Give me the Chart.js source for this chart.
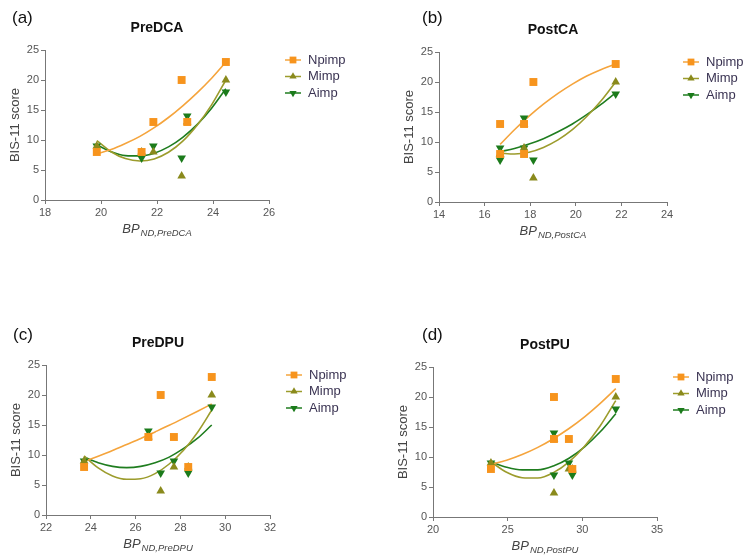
<!DOCTYPE html>
<html>
<head>
<meta charset="utf-8">
<title>BIS-11 vs BP</title>
<script src="https://cdn.jsdelivr.net/npm/chart.js@4.4.0/dist/chart.umd.min.js"></script>
<style>
  body { margin: 0; background: #fff; }
  #wrap { position: relative; width: 748px; height: 560px; }
  canvas { position: absolute; }
</style>
</head>
<body>
<div id="wrap">
  <canvas id="panelA" width="374" height="280" style="left:0;top:0"></canvas>
  <canvas id="panelB" width="374" height="280" style="left:374px;top:0"></canvas>
  <canvas id="panelC" width="374" height="280" style="left:0;top:280px"></canvas>
  <canvas id="panelD" width="374" height="280" style="left:374px;top:280px"></canvas>
</div>
<script>
// --------------------- Data ---------------------
// BIS-11 subscale scores, one value per subject
const seriesNames = ["Npimp", "Mimp", "Aimp"];
const npimp = [8, 8, 13, 20, 13, 23];
const mimp = [9, 8, 8, 4, 13, 20];
const aimp = [9, 7, 9, 7, 14, 18];

// BP_ND for the same subjects in each region
const bpPreDCA = [19.85, 21.45, 21.87, 22.88, 23.08, 24.46];
const bpPostCA = [17.73, 16.68, 16.68, 18.14, 17.73, 21.75];
const bpPreDPU = [23.7, 28.35, 27.71, 27.12, 26.57, 29.4];
const bpPostPU = [23.88, 29.33, 29.1, 28.1, 28.1, 32.24];

// fitted curves
const fitXPreDCA = [19.85, 20.36, 20.87, 21.39, 21.9, 22.41, 22.92, 23.44, 23.95, 24.46];
const fitNPreDCA = [7.7, 8.4, 9.4, 10.6, 12.05, 13.75, 15.7, 17.9, 20.3, 23.0];
const fitMPreDCA = [9.9, 8.05, 6.9, 6.5, 6.85, 7.95, 9.8, 12.5, 15.85, 20.0];
const fitAPreDCA = [9.2, 8.05, 7.4, 7.35, 7.8, 8.85, 10.45, 12.6, 15.3, 18.55];

const fitXPostCA = [16.68, 17.31, 17.95, 18.58, 19.22, 19.85, 20.48, 21.12, 21.75];
const fitNPostCA = [9.6, 12.05, 14.3, 16.3, 18.1, 19.65, 21.0, 22.1, 23.0];
const fitMPostCA = [8.15, 8.0, 8.3, 9.1, 10.35, 12.05, 14.25, 16.9, 20.0];
const fitAPostCA = [8.4, 8.9, 9.65, 10.55, 11.7, 13.0, 14.55, 16.3, 18.2];

const fitXPreDPU = [23.7, 24.33, 24.97, 25.6, 26.23, 26.87, 27.5, 28.13, 28.77, 29.4];
const fitNPreDPU = [8.9, 9.8, 10.75, 11.75, 12.75, 13.85, 14.95, 16.1, 17.3, 18.5];
const fitMPreDPU = [9.85, 7.85, 6.5, 5.95, 6.05, 6.9, 8.5, 10.75, 13.8, 17.5];
const fitAPreDPU = [9.65, 8.7, 8.1, 7.9, 8.1, 8.7, 9.65, 11.05, 12.8, 15.0];

const fitXPostPU = [23.88, 24.93, 25.97, 27.02, 28.06, 29.11, 30.15, 31.2, 32.24];
const fitNPostPU = [8.8, 9.45, 10.4, 11.6, 13.05, 14.75, 16.7, 18.95, 21.4];
const fitMPostPU = [9.2, 7.45, 6.55, 6.5, 7.4, 9.2, 11.8, 15.2, 19.4];
const fitAPostPU = [9.2, 8.3, 7.85, 7.85, 8.5, 9.8, 11.7, 14.2, 17.2];

// axis ranges: min, max, step
const yTicks = [0, 5, 10, 15, 20, 25];
const xRangePreDCA = [18, 26, 2];
const xRangePostCA = [14, 24, 2];
const xRangePreDPU = [22, 32, 2];
const xRangePostPU = [20, 35, 5];

// --------------------- Styles ---------------------
const markerColors = ["#F7941D", "#8A8A1C", "#1B7B1B"];
const curveColors = ["#F5A43C", "#9C9C2C", "#1F7D1F"];
const markerStyles = [
  { pointStyle: "rect", pointRadius: 5.6, rotation: 0 },
  { pointStyle: "triangle", pointRadius: 5, rotation: 0 },
  { pointStyle: "triangle", pointRadius: 5, rotation: 180 }
];
const FONT = "'Liberation Sans', Arial, sans-serif";

// --------------------- Decorations plugin ---------------------
const panelDecor = {
  id: "panelDecor",
  afterDraw(chart, args, opts) {
    const ctx = chart.ctx;
    const a = chart.chartArea;
    const cx = (a.left + a.right) / 2;
    ctx.save();

    // panel letter
    ctx.fillStyle = "#111";
    ctx.font = "17px " + FONT;
    ctx.textAlign = "left";
    ctx.textBaseline = "middle";
    ctx.fillText(opts.letter, opts.letterX, opts.letterY);

    // title
    ctx.font = "bold 14px " + FONT;
    ctx.textAlign = "center";
    ctx.fillText(opts.title, cx, a.top - 22);

    // y title
    ctx.save();
    ctx.translate(a.left - 30, (a.top + a.bottom) / 2);
    ctx.rotate(-Math.PI / 2);
    ctx.fillStyle = "#444";
    ctx.font = "13px " + FONT;
    ctx.fillText("BIS-11 score", 0, 0);
    ctx.restore();

    // x title with subscript
    ctx.fillStyle = "#444";
    ctx.textAlign = "left";
    ctx.textBaseline = "alphabetic";
    const main = "BP", sub = "ND," + opts.title;
    ctx.font = "italic 13px " + FONT;
    const w1 = ctx.measureText(main).width;
    ctx.font = "italic 9.5px " + FONT;
    const w2 = ctx.measureText(sub).width;
    const x0 = cx - (w1 + w2 + 1) / 2;
    ctx.font = "italic 13px " + FONT;
    ctx.fillText(main, x0, a.bottom + 33);
    ctx.font = "italic 9.5px " + FONT;
    ctx.fillText(sub, x0 + w1 + 1, a.bottom + 36);

    // legend
    const lx = a.right + 16;
    seriesNames.forEach((name, i) => {
      const ly = a.top + 10 + i * 16.5;
      ctx.strokeStyle = curveColors[i];
      ctx.lineWidth = 1.5;
      ctx.beginPath();
      ctx.moveTo(lx, ly);
      ctx.lineTo(lx + 16, ly);
      ctx.stroke();
      ctx.fillStyle = markerColors[i];
      Chart.helpers.drawPoint(ctx, {
        pointStyle: markerStyles[i].pointStyle,
        rotation: markerStyles[i].rotation,
        radius: markerStyles[i].pointRadius - 0.8,
        borderWidth: 0
      }, lx + 8, ly);
      ctx.fillStyle = "#3a3352";
      ctx.font = "13px " + FONT;
      ctx.textBaseline = "middle";
      ctx.fillText(name, lx + 23, ly);
    });

    ctx.restore();
  }
};

// --------------------- Chart builder ---------------------
function toPoints(xs, ys) {
  return xs.map((x, i) => ({ x: x, y: ys[i] }));
}

function makePanel(id, cfg) {
  const values = [npimp, mimp, aimp];
  const fits = [cfg.fitN, cfg.fitM, cfg.fitA];
  const datasets = [];

  values.forEach((vals, i) => {
    datasets.push({
      label: seriesNames[i],
      data: toPoints(cfg.bp, vals),
      backgroundColor: markerColors[i],
      borderColor: markerColors[i],
      borderWidth: 0,
      pointStyle: markerStyles[i].pointStyle,
      pointRadius: markerStyles[i].pointRadius,
      rotation: markerStyles[i].rotation,
      showLine: false,
      clip: false,
      order: 0
    });
  });

  fits.forEach((fy, i) => {
    datasets.push({
      label: seriesNames[i] + " fit",
      data: toPoints(cfg.fitX, fy),
      borderColor: curveColors[i],
      borderWidth: 1.6,
      pointRadius: 0,
      showLine: true,
      cubicInterpolationMode: "monotone",
      clip: false,
      order: 1
    });
  });

  new Chart(document.getElementById(id), {
    type: "scatter",
    data: { datasets: datasets },
    plugins: [panelDecor],
    options: {
      responsive: false,
      animation: false,
      devicePixelRatio: 1,
      layout: { padding: cfg.padding },
      plugins: {
        legend: { display: false },
        tooltip: { enabled: false },
        panelDecor: { letter: cfg.letter, letterX: cfg.letterX, letterY: cfg.letterY, title: cfg.title }
      },
      scales: {
        x: {
          type: "linear",
          min: cfg.xRange[0],
          max: cfg.xRange[1],
          afterFit: (s) => { s.height = 40; },
          ticks: { stepSize: cfg.xRange[2], color: "#555", padding: 2, font: { family: FONT, size: 11 } },
          grid: { drawOnChartArea: false, drawTicks: true, tickLength: 4, color: "#777" },
          border: { color: "#777", width: 1 }
        },
        y: {
          type: "linear",
          min: yTicks[0],
          max: yTicks[yTicks.length - 1],
          afterFit: (s) => { s.width = 45; },
          afterBuildTicks: (s) => { s.ticks = yTicks.map(v => ({ value: v })); },
          ticks: { color: "#555", padding: 2, font: { family: FONT, size: 11 } },
          grid: { drawOnChartArea: false, drawTicks: true, tickLength: 4, color: "#777" },
          border: { color: "#777", width: 1 }
        }
      }
    }
  });
}

// --------------------- Panels ---------------------
makePanel("panelA", {
  letter: "(a)", letterX: 12, letterY: 18, title: "PreDCA",
  bp: bpPreDCA, xRange: xRangePreDCA,
  fitX: fitXPreDCA, fitN: fitNPreDCA, fitM: fitMPreDCA, fitA: fitAPreDCA,
  padding: { left: 0, top: 50, right: 105, bottom: 40 }
});

makePanel("panelB", {
  letter: "(b)", letterX: 48, letterY: 18, title: "PostCA",
  bp: bpPostCA, xRange: xRangePostCA,
  fitX: fitXPostCA, fitN: fitNPostCA, fitM: fitMPostCA, fitA: fitAPostCA,
  padding: { left: 20, top: 52, right: 81, bottom: 38 }
});

makePanel("panelC", {
  letter: "(c)", letterX: 13, letterY: 55, title: "PreDPU",
  bp: bpPreDPU, xRange: xRangePreDPU,
  fitX: fitXPreDPU, fitN: fitNPreDPU, fitM: fitMPreDPU, fitA: fitAPreDPU,
  padding: { left: 1, top: 85, right: 104, bottom: 5 }
});

makePanel("panelD", {
  letter: "(d)", letterX: 48, letterY: 55, title: "PostPU",
  bp: bpPostPU, xRange: xRangePostPU,
  fitX: fitXPostPU, fitN: fitNPostPU, fitM: fitMPostPU, fitA: fitAPostPU,
  padding: { left: 14, top: 87, right: 91, bottom: 3 }
});
</script>
</body>
</html>
